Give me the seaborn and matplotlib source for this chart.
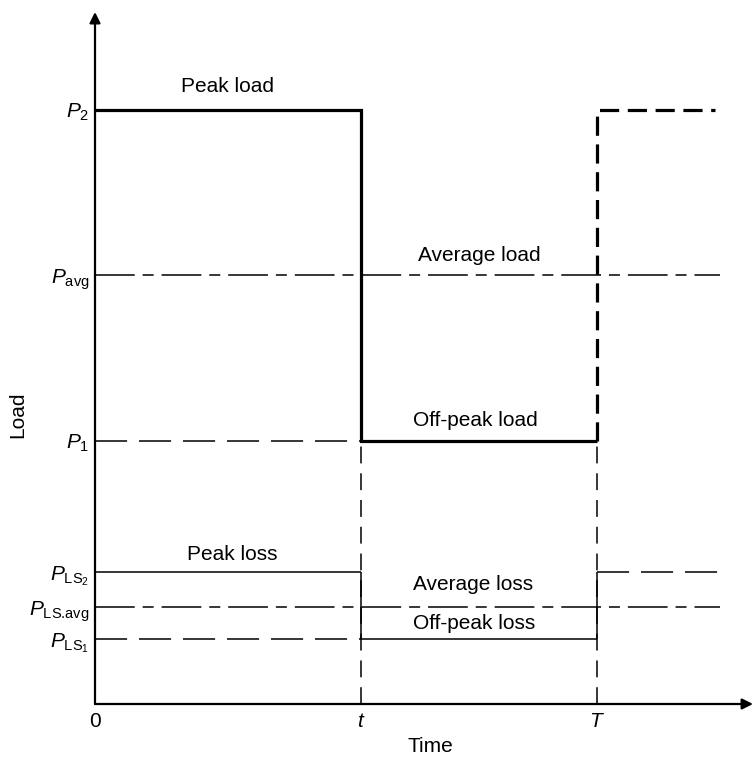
import matplotlib
matplotlib.use("Agg")
import matplotlib.pyplot as plt
import seaborn as sns
import pandas as pd

# ---- data (schematic levels) ----
time_names = ["0", "$t$", "$T$"]
t_peak_end = 1.0        # t
t_period = 1.887        # T
t_line_end = 2.35       # where the continuation lines stop
x_max = 2.474
y_max = 1.165

P2 = 1.0
P_avg = 0.722
P1 = 0.443
P_LS2 = 0.222
P_LS_avg = 0.163
P_LS1 = 0.109

level_values = [P2, P_avg, P1, P_LS2, P_LS_avg, P_LS1]
level_names = [r"$P_2$", r"$P_{\mathrm{avg}}$", r"$P_1$",
               r"$P_{\mathrm{LS}_2}$", r"$P_{\text{LS.avg}}$", r"$P_{\mathrm{LS}_1}$"]

sns.set_theme(style="white")
plt.rcParams["font.family"] = ["Liberation Sans", "DejaVu Sans"]
plt.rcParams["mathtext.fontset"] = "custom"
plt.rcParams["mathtext.rm"] = "Liberation Sans"
plt.rcParams["mathtext.it"] = "Liberation Sans:italic"
plt.rcParams["mathtext.bf"] = "Liberation Sans:bold"
plt.rcParams["text.color"] = "black"
plt.rcParams["xtick.color"] = "black"
plt.rcParams["ytick.color"] = "black"
plt.rcParams["axes.labelcolor"] = "black"

fig = plt.figure(figsize=(7.54, 7.61), dpi=100)
ax = fig.add_axes([0.1260, 0.0749, 0.8727, 0.9093])

THIN = 1.1
THICK = 2.3
dashdot = (0, (26, 5.2, 7.2, 5.2))
dash_h = (0, (21, 7.8))
dash_v = (0, (11, 6.5))
dash_thick = (0, (6.0, 2.7))


def seg(xs, ys, lw, ls="-"):
    df = pd.DataFrame({"x": xs, "y": ys})
    sns.lineplot(data=df, x="x", y="y", ax=ax, estimator=None, sort=False,
                 color="black", linewidth=lw, linestyle=ls,
                 solid_joinstyle="miter", dash_capstyle="butt", solid_capstyle="butt")


# load curve
seg([0, t_peak_end, t_peak_end, t_period], [P2, P2, P1, P1], THICK)
seg([t_period, t_period, t_line_end - 0.02], [P1, P2, P2], THICK, dash_thick)
# average load
seg([0, t_line_end], [P_avg, P_avg], THIN, dashdot)
# off-peak level reference
seg([0, t_peak_end], [P1, P1], THIN, dash_h)
# losses
seg([0, t_peak_end], [P_LS2, P_LS2], THIN)
seg([t_period, t_line_end], [P_LS2, P_LS2], THIN, dash_h)
seg([0, t_line_end], [P_LS_avg, P_LS_avg], THIN, dashdot)
seg([0, t_peak_end], [P_LS1, P_LS1], THIN, dash_h)
seg([t_peak_end, t_period], [P_LS1, P_LS1], THIN)
# vertical markers at t and T
for tx in [t_peak_end, t_period]:
    seg([tx, tx], [0, P1], THIN, dash_v)
    seg([tx, tx], [P_LS1, P_LS2], THIN)

ax.set_xlim(0, x_max)
ax.set_ylim(0, y_max)
for s in ax.spines.values():
    s.set_visible(False)

# axes with arrows
ax.annotate("", xy=(0, 1), xytext=(0, 0), xycoords="axes fraction",
            arrowprops=dict(arrowstyle="-|>", lw=1.6, color="black",
                            mutation_scale=16, shrinkA=0, shrinkB=0))
ax.annotate("", xy=(1, 0), xytext=(0, 0), xycoords="axes fraction",
            arrowprops=dict(arrowstyle="-|>", lw=1.6, color="black",
                            mutation_scale=16, shrinkA=0, shrinkB=0))

ax.set_xticks([0, t_peak_end, t_period])
ax.set_xticklabels(time_names, fontsize=15)
ax.set_yticks(level_values)
ax.set_yticklabels(level_names, fontsize=15)
ax.tick_params(axis="x", length=0, pad=6)
ax.tick_params(axis="y", length=0, pad=4)
ax.set_xlabel("")
ax.set_ylabel("")

fig.text(430 / 754, 1 - 747 / 761, "Time", ha="center", va="center", fontsize=15)
fig.text(18 / 754, 1 - 415 / 761, "Load", ha="center", va="center", fontsize=15, rotation=90)

txt = dict(ha="center", va="baseline", fontsize=15)
ax.text(0.50, 1.030, "Peak load", **txt)
ax.text(1.444, 0.746, "Average load", **txt)
ax.text(1.429, 0.468, "Off-peak load", **txt)
ax.text(0.515, 0.242, "Peak loss", **txt)
ax.text(1.421, 0.192, "Average loss", **txt)
ax.text(1.425, 0.126, "Off-peak loss", **txt)

fig.savefig("out.png", dpi=100)
